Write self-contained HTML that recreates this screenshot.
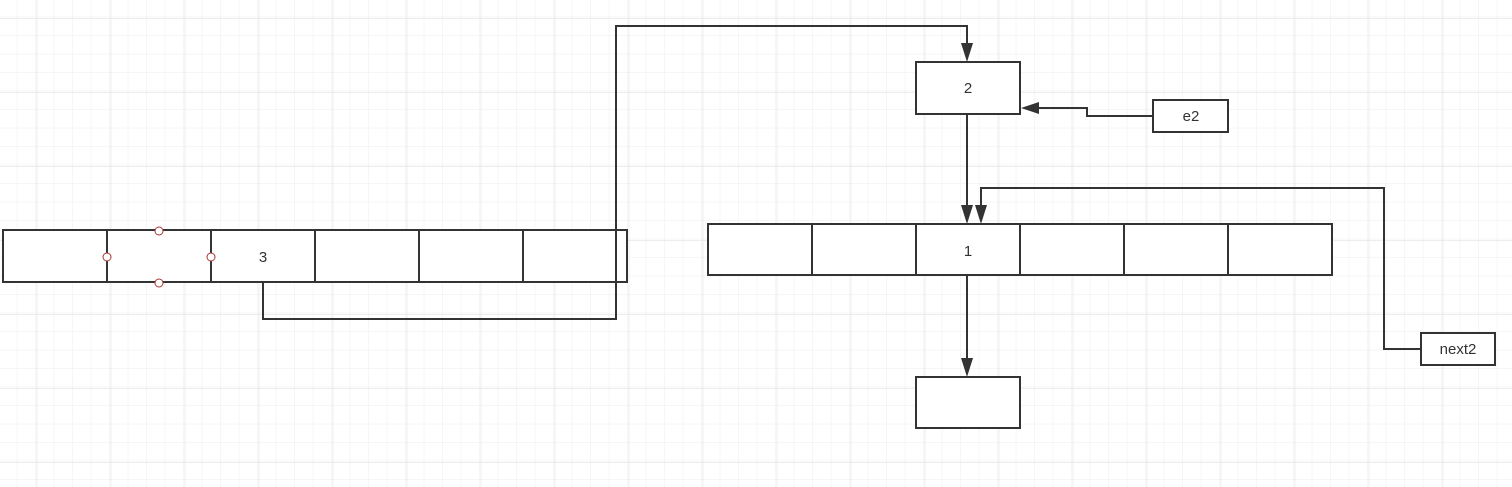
<!DOCTYPE html>
<html><head><style>
html,body{margin:0;padding:0;background:#fff;}
svg{display:block;}
text{font-family:"Liberation Sans",sans-serif;font-size:15px;fill:#333;}
</style></head><body>
<svg width="1512" height="487" viewBox="0 0 1512 487" xmlns="http://www.w3.org/2000/svg">
<defs>
<pattern id="mn" x="-1.2" y="-1.2" width="18.5" height="18.5" patternUnits="userSpaceOnUse">
<path d="M18.5 0V18.5M0 18.5H18.5" fill="none" stroke="#ececec" stroke-width="1"/>
</pattern>
<pattern id="mj" x="36.7" y="18" width="74" height="74" patternUnits="userSpaceOnUse">
<path d="M0 0V74M0 0H74" fill="none" stroke="#e2e2e2" stroke-width="1.2"/>
</pattern>
</defs>
<rect width="1512" height="487" fill="url(#mn)"/>
<rect width="1512" height="487" fill="url(#mj)"/>
<g fill="#fff" stroke="#333" stroke-width="2">
<rect x="3" y="230" width="624" height="52"/>
<path d="M107 230V282M211 230V282M315 230V282M419 230V282M523 230V282" fill="none"/>
<rect x="708" y="224" width="624" height="51"/>
<path d="M812 224V275M916 224V275M1020 224V275M1124 224V275M1228 224V275" fill="none"/>
<rect x="916" y="62" width="104" height="52"/>
<rect x="1153" y="100" width="75" height="32"/>
<rect x="1421" y="333" width="74" height="32"/>
<rect x="916" y="377" width="104" height="51"/>
</g>
<g fill="none" stroke="#333" stroke-width="2">
<path d="M263 282V319H616V26H967V46"/>
<path d="M1153 116H1087V108H1036"/>
<path d="M967 114V208"/>
<path d="M1421 349H1384V188H981V208"/>
<path d="M967 275V361"/>
</g>
<g fill="#333">
<path d="M961 43L973 43L967 62Z"/>
<path d="M1039 102L1039 114L1021 108Z"/>
<path d="M961 205L973 205L967 224Z"/>
<path d="M975 205L987 205L981 224Z"/>
<path d="M961 358L973 358L967 377Z"/>
</g>
<g fill="#fff" stroke="#a33" stroke-width="1">
<circle cx="159" cy="231" r="4"/><circle cx="159" cy="283" r="4"/>
<circle cx="107" cy="257" r="4"/><circle cx="211" cy="257" r="4"/>
</g>
<text x="263" y="262" text-anchor="middle">3</text>
<text x="968" y="93" text-anchor="middle">2</text>
<text x="968" y="256" text-anchor="middle">1</text>
<text x="1191" y="121" text-anchor="middle">e2</text>
<text x="1458" y="354" text-anchor="middle">next2</text>
</svg>
</body></html>
